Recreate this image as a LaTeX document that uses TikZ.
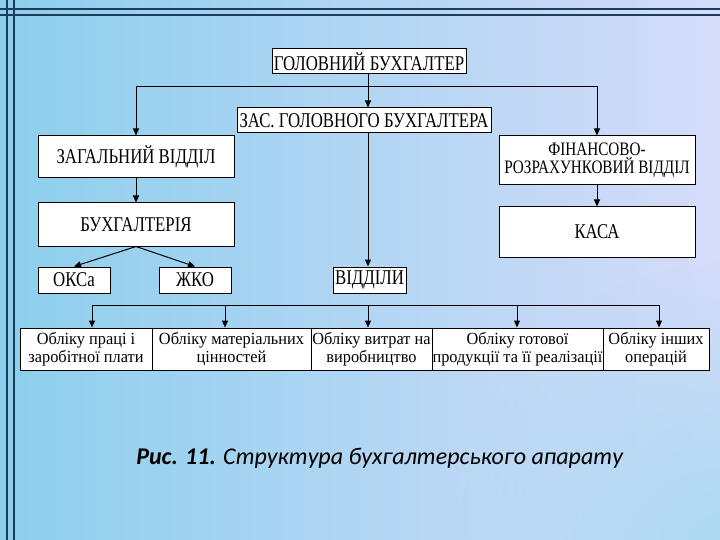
\documentclass[tikz,border=0pt]{standalone}
\usepackage{fontspec}
\newfontfamily\boxfont[FakeStretch=0.8]{Liberation Serif}
\newfontfamily\lowfont[FakeStretch=0.96]{Liberation Serif}
\newfontfamily\capfont{Carlito}
\usetikzlibrary{arrows.meta, fadings}

\tikzfading[name=fade corner, inner color=transparent!0, outer color=transparent!100]

\tikzset{
    box/.style={draw, fill=white, line width=1pt, inner sep=0pt, align=center,
        font=\boxfont\fontsize{21}{20}\selectfont},
    lowbox/.style={box, font=\lowfont\fontsize{17}{17.5}\selectfont},
    arr/.style={-{Triangle[length=7pt, width=6pt]}, line width=1pt},
    frameline/.style={draw=slideline, line width=2pt}
}

\begin{document}
\begin{tikzpicture}[x=1pt, y=-1pt]

    % Define custom colors
    \definecolor{bgleft}{RGB}{140, 207, 236}
    \definecolor{bgmid}{RGB}{194, 216, 246}
    \definecolor{bgright}{RGB}{213, 220, 250}
    \definecolor{bglow}{RGB}{168, 217, 242}
    \definecolor{slideline}{RGB}{30, 60, 92}

    % 1. Slide background and frame lines
    \useasboundingbox (0,0) rectangle (720,540);
    \shade[left color=bgleft, middle color=bgmid, right color=bgright] (0,0) rectangle (720,540);
    \begin{scope}
        \clip (0,0) rectangle (720,540);
        \fill[bglow, path fading=fade corner] (740,560) circle (300);
    \end{scope}
    \draw[frameline] (0,9) -- (720,9);
    \draw[frameline] (0,15) -- (720,15);
    \draw[frameline] (7,0) -- (7,540);
    \draw[frameline] (14,0) -- (14,540);

    % 2. Boxes of the upper levels
    \node[box, minimum width=194, minimum height=25] (chief) at (369,61.5) {ГОЛОВНИЙ БУХГАЛТЕР};
    \node[box, minimum width=254, minimum height=25] (deputy) at (364,120.5) {ЗАС. ГОЛОВНОГО БУХГАЛТЕРА};
    \node[box, minimum width=196, minimum height=42] (general) at (136,157) {ЗАГАЛЬНИЙ ВІДДІЛ};
    \node[box, minimum width=196, minimum height=49, font=\boxfont\fontsize{19}{18}\selectfont] (fin) at (597,160.5) {ФІНАНСОВО-\\РОЗРАХУНКОВИЙ ВІДДІЛ};
    \node[box, minimum width=196, minimum height=43] (acct) at (136,224.5) {БУХГАЛТЕРІЯ};
    \node[box, minimum width=196, minimum height=50] (cash) at (597,232) {КАСА};
    \node[box, minimum width=72, minimum height=26] (oksa) at (74,280) {ОКСа};
    \node[box, minimum width=72, minimum height=26] (zhko) at (195,280) {ЖКО};
    \node[box, minimum width=73, minimum height=26] (depts) at (369.5,280) {ВІДДІЛИ};

    % 3. Bottom row of accounting sections
    \node[lowbox, minimum width=132, minimum height=42] (b1) at (86,349) {Обліку праці і\\заробітної плати};
    \node[lowbox, minimum width=159, minimum height=42] (b2) at (231.5,349) {Обліку матеріальних\\цінностей};
    \node[lowbox, minimum width=121, minimum height=42] (b3) at (371.5,349) {Обліку витрат на\\виробництво};
    \node[lowbox, minimum width=171, minimum height=42] (b4) at (517.5,349) {Обліку готової\\продукції та її реалізації};
    \node[lowbox, minimum width=106, minimum height=42] (b5) at (656,349) {Обліку інших\\операцій};

    % 4. Connectors
    \coordinate (hub) at (368,87);
    \draw[line width=1pt] (chief.south -| hub) -- (hub);
    \draw[arr] (hub) -| (general.north);
    \draw[arr] (hub) -| (fin.north);
    \draw[arr] (hub) -- (hub |- deputy.north);
    \draw[arr] (general.south) -- (acct.north);
    \draw[arr] (fin.south) -- (cash.north);
    \draw[arr] (acct.south) -- (oksa.north);
    \draw[arr] (acct.south) -- (zhko.north);
    \draw[arr] (hub |- deputy.south) -- (hub |- depts.north);

    % bus above the bottom row
    \coordinate (t1) at (92,305);
    \coordinate (t2) at (225,305);
    \coordinate (t3) at (368,305);
    \coordinate (t4) at (517,305);
    \coordinate (t5) at (659,305);
    \draw[line width=1pt] (t1) -- (t5);
    \foreach \i in {1,...,5}
        \draw[arr] (t\i) -- (t\i |- b\i.north);

    % 5. Caption
    \node[font=\capfont\fontsize{24}{28}\selectfont] (caption) at (380,458)
        {\textbf{\textit{Рис. 11.}} \textit{Структура бухгалтерського апарату}};

\end{tikzpicture}
\end{document}
